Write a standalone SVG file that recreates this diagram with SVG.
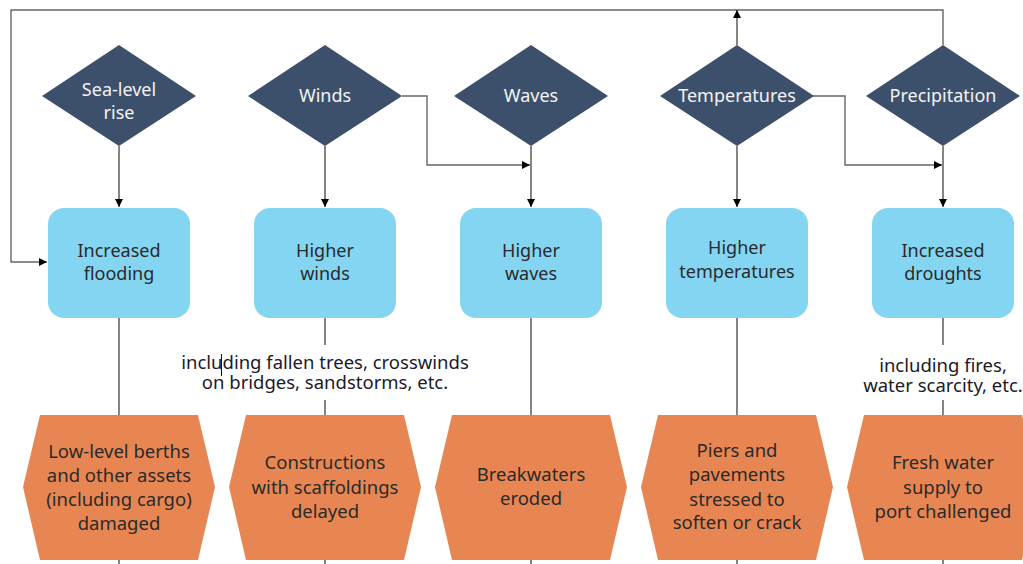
<svg xmlns="http://www.w3.org/2000/svg" width="1023" height="564" viewBox="0 0 1023 564">
<style>
.dia{fill:#3d506b}
.box{fill:#84d5f2}
.hex{fill:#e88653}
.dt{font-family:"Noto Sans",sans-serif;font-size:18px;fill:#f4f4f4;text-anchor:middle}
.bt{font-family:"Noto Sans",sans-serif;font-size:18px;fill:#2a2a2a;text-anchor:middle}
.ht{font-family:"Noto Sans",sans-serif;font-size:18.5px;fill:#2a2a2a;text-anchor:middle}
.lt{font-family:"Noto Sans",sans-serif;font-size:18.5px;fill:#1a1a2a;text-anchor:middle}
.ln{fill:none;stroke:#333;stroke-width:1.2}
.lg{fill:none;stroke:#666;stroke-width:1.4}
</style>
<defs>
<marker id="ah" viewBox="0 0 10 10" refX="10" refY="5" markerWidth="8" markerHeight="8" markerUnits="userSpaceOnUse" orient="auto">
<path d="M0,0 L10,5 L0,10 z" fill="#000"/>
</marker>
</defs>
<rect width="1023" height="564" fill="#fff"/>
<g id="connectors">
<polyline class="lg" points="943,45 943,10 11,10 11,262 47,262" marker-end="url(#ah)"/>
<line class="ln" x1="737" y1="45" x2="737" y2="10" marker-end="url(#ah)"/>
<polyline class="lg" points="402,96 427,96 427,165 530,165" marker-end="url(#ah)"/>
<polyline class="lg" points="813,96 845,96 845,165 942,165" marker-end="url(#ah)"/>
<line class="ln" x1="119" y1="146" x2="119" y2="207" marker-end="url(#ah)"/>
<line class="ln" x1="325" y1="146" x2="325" y2="207" marker-end="url(#ah)"/>
<line class="ln" x1="531" y1="146" x2="531" y2="207" marker-end="url(#ah)"/>
<line class="ln" x1="737" y1="146" x2="737" y2="207" marker-end="url(#ah)"/>
<line class="ln" x1="943" y1="146" x2="943" y2="207" marker-end="url(#ah)"/>
<line class="ln" x1="119" y1="318" x2="119" y2="415"/>
<line class="ln" x1="325" y1="318" x2="325" y2="345"/>
<line class="ln" x1="325" y1="400" x2="325" y2="415"/>
<line class="ln" x1="531" y1="318" x2="531" y2="415"/>
<line class="ln" x1="737" y1="318" x2="737" y2="415"/>
<line class="ln" x1="943" y1="318" x2="943" y2="345"/>
<line class="ln" x1="943" y1="400" x2="943" y2="415"/>
<line class="ln" x1="119" y1="560" x2="119" y2="564"/>
<line class="ln" x1="325" y1="560" x2="325" y2="564"/>
<line class="ln" x1="531" y1="560" x2="531" y2="564"/>
<line class="ln" x1="737" y1="560" x2="737" y2="564"/>
<line class="ln" x1="943" y1="560" x2="943" y2="564"/>
<text class="lt"><tspan x="325" y="369">including fallen trees, crosswinds</tspan><tspan x="325" y="389">on bridges, sandstorms, etc.</tspan></text>
<line x1="221.5" y1="354" x2="221.5" y2="376" stroke="#111" stroke-width="1"/>
<text class="lt"><tspan x="943" y="372">including fires,</tspan><tspan x="943" y="392">water scarcity, etc.</tspan></text>
</g>
<g id="d-sea"><polygon class="dia" points="119,45 196,96 119,146 42,96"/><text class="dt" x="119" y="96">Sea-level</text><text class="dt" x="119" y="119">rise</text></g>
<g id="d-winds"><polygon class="dia" points="325,45 402,96 325,146 248,96"/><text class="dt" x="325" y="102">Winds</text></g>
<g id="d-waves"><polygon class="dia" points="531,45 608,96 531,146 454,96"/><text class="dt" x="531" y="102">Waves</text></g>
<g id="d-temp"><polygon class="dia" points="737,45 814,96 737,146 660,96"/><text class="dt" x="737" y="102">Temperatures</text></g>
<g id="d-prec"><polygon class="dia" points="943,45 1020,96 943,146 866,96"/><text class="dt" x="943" y="102">Precipitation</text></g>
<g id="b-flood"><rect class="box" x="48" y="208" width="142" height="110" rx="16"/><text class="bt" x="119" y="257">Increased</text><text class="bt" x="119" y="280">flooding</text></g>
<g id="b-winds"><rect class="box" x="254" y="208" width="142" height="110" rx="16"/><text class="bt" x="325" y="257">Higher</text><text class="bt" x="325" y="280">winds</text></g>
<g id="b-waves"><rect class="box" x="460" y="208" width="142" height="110" rx="16"/><text class="bt" x="531" y="257">Higher</text><text class="bt" x="531" y="280">waves</text></g>
<g id="b-temp"><rect class="box" x="666" y="208" width="142" height="110" rx="16"/><text class="bt" x="737" y="254">Higher</text><text class="bt" x="737" y="278">temperatures</text></g>
<g id="b-drought"><rect class="box" x="872" y="208" width="142" height="110" rx="16"/><text class="bt" x="943" y="257">Increased</text><text class="bt" x="943" y="280">droughts</text></g>
<g id="h-berths"><polygon class="hex" points="40,415 198,415 215,487 198,560 40,560 23,487"/><text class="ht" x="119" y="458">Low-level berths</text><text class="ht" x="119" y="482">and other assets</text><text class="ht" x="119" y="506">(including cargo)</text><text class="ht" x="119" y="530">damaged</text></g>
<g id="h-constr"><polygon class="hex" points="246,415 404,415 421,487 404,560 246,560 229,487"/><text class="ht" x="325" y="469">Constructions</text><text class="ht" x="325" y="494">with scaffoldings</text><text class="ht" x="325" y="518">delayed</text></g>
<g id="h-break"><polygon class="hex" points="452,415 610,415 627,487 610,560 452,560 435,487"/><text class="ht" x="531" y="481">Breakwaters</text><text class="ht" x="531" y="505">eroded</text></g>
<g id="h-piers"><polygon class="hex" points="658,415 816,415 833,487 816,560 658,560 641,487"/><text class="ht" x="737" y="457">Piers and</text><text class="ht" x="737" y="481">pavements</text><text class="ht" x="737" y="506">stressed to</text><text class="ht" x="737" y="529">soften or crack</text></g>
<g id="h-water"><polygon class="hex" points="864,415 1022,415 1039,487 1022,560 864,560 847,487"/><text class="ht" x="943" y="469">Fresh water</text><text class="ht" x="943" y="494">supply to</text><text class="ht" x="943" y="518">port challenged</text></g>
</svg>
